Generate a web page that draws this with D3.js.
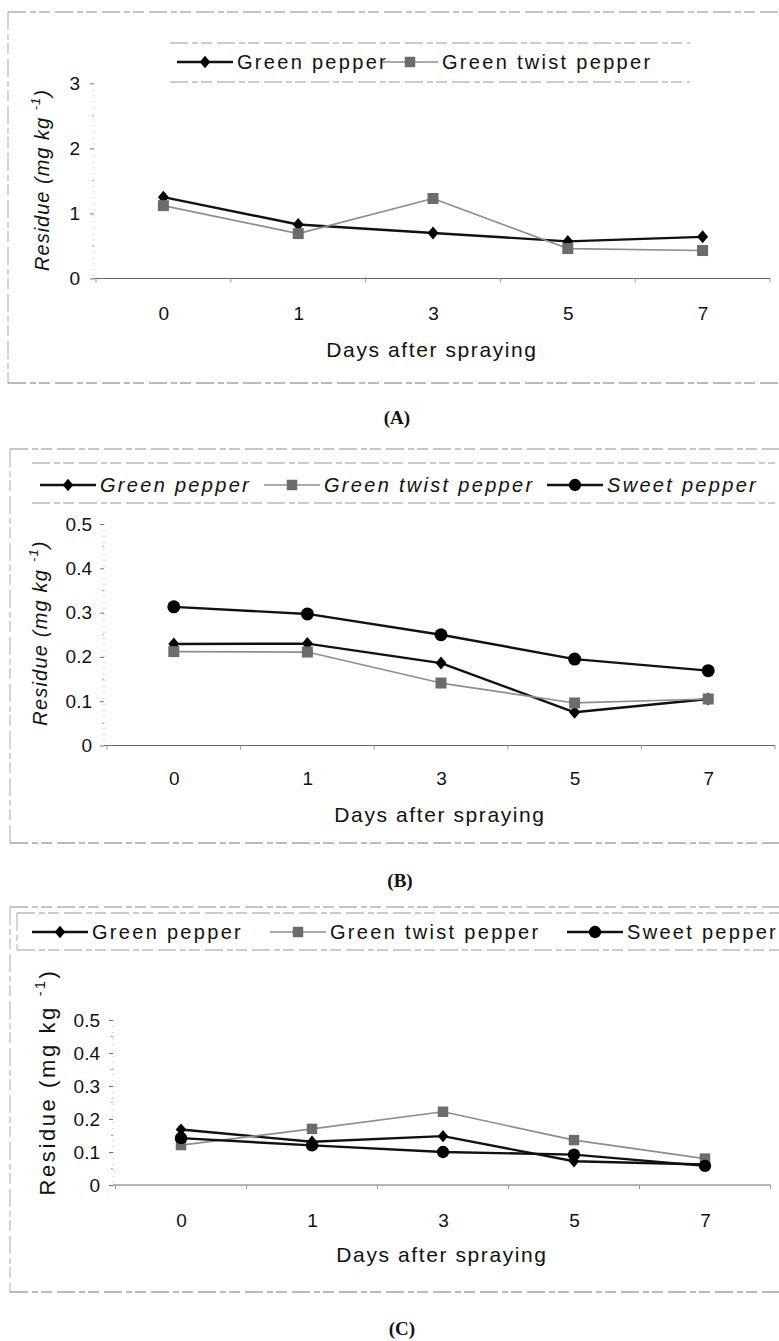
<!DOCTYPE html>
<html>
<head>
<meta charset="utf-8">
<script src="https://cdnjs.cloudflare.com/ajax/libs/d3/7.8.5/d3.min.js"></script>
<style>
  html, body { margin: 0; padding: 0; background: #fff; }
  svg { display: block; }
  text { font-family: "Liberation Sans", Arial, sans-serif; fill: #111; }
</style>
</head>
<body>
<svg id="chart" width="779" height="1341"></svg>
<script>
const days = ['0', '1', '3', '5', '7'];

// panel (A)
const aGreenPepper = [1.25, 0.83, 0.70, 0.57, 0.64];
const aTwistPepper = [1.12, 0.69, 1.23, 0.46, 0.43];
const aTicks = [0, 1, 2, 3];

// panel (B)
const bGreenPepper = [0.229, 0.230, 0.186, 0.075, 0.105];
const bTwistPepper = [0.212, 0.211, 0.141, 0.096, 0.105];
const bSweetPepper = [0.313, 0.297, 0.250, 0.195, 0.169];
const bTicks = [0, 0.1, 0.2, 0.3, 0.4, 0.5];

// panel (C)
const cGreenPepper = [0.168, 0.131, 0.148, 0.072, 0.062];
const cTwistPepper = [0.121, 0.170, 0.222, 0.136, 0.080];
const cSweetPepper = [0.142, 0.120, 0.100, 0.092, 0.058];
const cTicks = [0, 0.1, 0.2, 0.3, 0.4, 0.5];

const styles = {
  'Green pepper': { stroke: '#111', width: 2.4, marker: 'diamond', fill: '#000' },
  'Green twist pepper': { stroke: '#8e8e8e', width: 1.7, marker: 'square', fill: '#6c6c6c' },
  'Sweet pepper': { stroke: '#111', width: 2.4, marker: 'circle', fill: '#000' }
};

const svg = d3.select('#chart');

function marker(sel, type, k) {
  k = k || 1;
  if (type === 'diamond') {
    sel.append('path').attr('d', `M0,${-6.5 * k}L${5.5 * k},0L0,${6.5 * k}L${-5.5 * k},0Z`);
  } else if (type === 'square') {
    sel.append('rect').attr('x', -5.5 * k).attr('y', -5.5 * k)
      .attr('width', 11 * k).attr('height', 11 * k);
  } else {
    sel.append('circle').attr('r', 6.5 * k);
  }
}

function dashLine(g, x1, y1, x2, y2, color) {
  g.append('line')
    .attr('x1', x1).attr('y1', y1).attr('x2', x2).attr('y2', y2)
    .attr('stroke', color || '#8a8a8a')
    .attr('stroke-width', 1)
    .attr('stroke-dasharray', '18,4,6,3,11,5');
}

function drawPanel(cfg) {
  const g = svg.append('g');

  // outer frame (only top, left, bottom are inside the picture)
  dashLine(g, cfg.frame.x, cfg.frame.top, 779, cfg.frame.top);
  dashLine(g, cfg.frame.x, cfg.frame.top, cfg.frame.x, cfg.frame.bottom, '#aaa');
  dashLine(g, cfg.frame.x, cfg.frame.bottom, 779, cfg.frame.bottom, '#777');

  // legend box
  const lg = cfg.legend;
  dashLine(g, lg.x0, lg.top, lg.x1, lg.top, '#999');
  dashLine(g, lg.x0, lg.bottom, lg.x1, lg.bottom, '#999');
  if (lg.sides) {
    dashLine(g, lg.x0, lg.top, lg.x0, lg.bottom, '#aaa');
    dashLine(g, lg.x1, lg.top, lg.x1, lg.bottom, '#aaa');
  }
  lg.items.forEach(it => {
    const st = styles[it.name];
    const item = g.append('g');
    item.append('line')
      .attr('x1', it.lineX0).attr('x2', it.lineX0 + 56)
      .attr('y1', lg.cy).attr('y2', lg.cy)
      .attr('stroke', st.stroke).attr('stroke-width', st.width);
    item.append('g')
      .attr('transform', `translate(${it.lineX0 + 28},${lg.cy})`)
      .attr('fill', st.fill)
      .call(marker, st.marker, 0.95);
    item.append('text')
      .attr('x', it.lineX0 + 60).attr('y', lg.cy + 7)
      .attr('font-size', 20)
      .attr('letter-spacing', '2.3px')
      .attr('font-style', lg.italic ? 'italic' : 'normal')
      .text(it.name);
  });

  const x = d3.scalePoint().domain(days).range(cfg.xRange).padding(0.5);
  const y = d3.scaleLinear().domain([0, d3.max(cfg.ticks)]).range(cfg.yRange);
  const zeroY = y(0);

  // y axis: faint dotted spine, ticks and labels
  g.append('line')
    .attr('x1', cfg.axisX).attr('x2', cfg.axisX)
    .attr('y1', y(d3.max(cfg.ticks))).attr('y2', zeroY)
    .attr('stroke', '#bbb').attr('stroke-dasharray', '1,5');

  const minor = d3.range(0, cfg.ticks.length - 1).map(i => (cfg.ticks[i] + cfg.ticks[i + 1]) / 2);
  g.selectAll('.minor').data(minor).enter().append('line')
    .attr('x1', cfg.axisX - 2).attr('x2', cfg.axisX)
    .attr('y1', d => y(d)).attr('y2', d => y(d))
    .attr('stroke', '#aaa');

  g.append('g')
    .attr('transform', `translate(${cfg.axisX},0)`)
    .call(d3.axisLeft(y).tickValues(cfg.ticks).tickSize(4).tickPadding(cfg.tickPad).tickFormat(cfg.fmt))
    .call(s => s.select('.domain').remove())
    .call(s => s.selectAll('line').attr('stroke', '#777'))
    .call(s => s.selectAll('text')
      .attr('font-size', 19)
      .attr('font-family', '"Liberation Sans", Arial, sans-serif')
      .attr('fill', '#111'));

  // zero line
  g.append('line')
    .attr('x1', cfg.axisX).attr('x2', cfg.xRange[1])
    .attr('y1', zeroY).attr('y2', zeroY)
    .attr('stroke', '#6a6a6a').attr('stroke-width', 1.1);

  // small category ticks under the zero line
  const step = x.step();
  const bounds = days.map(d => x(d) - step / 2).concat([x(days[days.length - 1]) + step / 2]);
  g.selectAll('.xtick').data(bounds).enter().append('line')
    .attr('x1', d => d).attr('x2', d => d)
    .attr('y1', zeroY).attr('y2', zeroY + 4)
    .attr('stroke', '#999');

  g.append('g')
    .attr('transform', `translate(0,${zeroY})`)
    .call(d3.axisBottom(x).tickSize(0).tickPadding(cfg.xPad))
    .call(s => s.select('.domain').remove())
    .call(s => s.selectAll('text')
      .attr('font-size', 19)
      .attr('font-family', '"Liberation Sans", Arial, sans-serif')
      .attr('fill', '#111'));

  // axis titles
  g.append('text')
    .attr('x', cfg.xTitle[0]).attr('y', cfg.xTitle[1])
    .attr('text-anchor', 'middle')
    .attr('font-size', 21)
    .attr('letter-spacing', '1.6px')
    .text('Days after spraying');

  const yt = g.append('text')
    .attr('transform', `translate(${cfg.yTitle[0]},${cfg.yTitle[1]}) rotate(-90)`)
    .attr('text-anchor', 'middle')
    .attr('dy', '0.35em')
    .attr('font-size', cfg.yTitleSize)
    .attr('letter-spacing', cfg.yTitleSpacing + 'px')
    .attr('font-style', cfg.yItalic ? 'italic' : 'normal');
  yt.append('tspan').text('Residue (mg kg ');
  yt.append('tspan').attr('font-size', cfg.yTitleSize * 0.65).attr('dy', '-0.7em').text('-1');
  yt.append('tspan').attr('dy', '0.45em').text(')');

  // series
  const line = d3.line().x((d, i) => x(days[i])).y(d => y(d));
  cfg.series.forEach(s => {
    const st = styles[s.name];
    g.append('path')
      .datum(s.values)
      .attr('fill', 'none')
      .attr('stroke', st.stroke)
      .attr('stroke-width', st.width)
      .attr('stroke-linejoin', 'round')
      .attr('d', line);
  });
  cfg.series.forEach(s => {
    const st = styles[s.name];
    g.selectAll(null).data(s.values).enter().append('g')
      .attr('transform', (d, i) => `translate(${x(days[i])},${y(d)})`)
      .attr('fill', st.fill)
      .each(function () { marker(d3.select(this), st.marker, cfg.markerScale); });
  });

  // panel label
  g.append('text')
    .attr('x', cfg.label[0]).attr('y', cfg.label[1])
    .attr('text-anchor', 'middle')
    .attr('font-weight', 'bold')
    .attr('font-size', 19)
    .attr('style', 'font-family: "Liberation Serif", "Times New Roman", serif')
    .text(cfg.labelText);
}

const fmtDec = d => (d === 0 ? '0' : d3.format('.1f')(d));

drawPanel({
  frame: { x: 8, top: 12, bottom: 383 },
  legend: {
    x0: 170, x1: 690, top: 43, bottom: 82, cy: 62, sides: false, italic: false,
    items: [
      { name: 'Green pepper', lineX0: 177 },
      { name: 'Green twist pepper', lineX0: 382 }
    ]
  },
  xRange: [96, 770],
  yRange: [278.5, 83.3],
  ticks: aTicks,
  fmt: d3.format('d'),
  axisX: 94,
  tickPad: 10,
  xPad: 28,
  xTitle: [432, 357],
  yTitle: [42, 180],
  yTitleSize: 20,
  yTitleSpacing: 1,
  yItalic: true,
  markerScale: 1,
  series: [
    { name: 'Green pepper', values: aGreenPepper },
    { name: 'Green twist pepper', values: aTwistPepper }
  ],
  label: [397, 424],
  labelText: '(A)'
});

drawPanel({
  frame: { x: 10, top: 449, bottom: 843 },
  legend: {
    x0: 32, x1: 775, top: 463, bottom: 503, cy: 485, sides: false, italic: true,
    items: [
      { name: 'Green pepper', lineX0: 40 },
      { name: 'Green twist pepper', lineX0: 264 },
      { name: 'Sweet pepper', lineX0: 547 }
    ]
  },
  xRange: [107, 775],
  yRange: [745.5, 524],
  ticks: bTicks,
  fmt: fmtDec,
  axisX: 104,
  tickPad: 8,
  xPad: 26,
  xTitle: [440, 822],
  yTitle: [40, 633],
  yTitleSize: 20,
  yTitleSpacing: 1.2,
  yItalic: true,
  markerScale: 1,
  series: [
    { name: 'Green pepper', values: bGreenPepper },
    { name: 'Green twist pepper', values: bTwistPepper },
    { name: 'Sweet pepper', values: bSweetPepper }
  ],
  label: [400, 887],
  labelText: '(B)'
});

drawPanel({
  frame: { x: 10, top: 907, bottom: 1292 },
  legend: {
    x0: 17, x1: 790, top: 913, bottom: 950, cy: 932, sides: true, italic: false,
    items: [
      { name: 'Green pepper', lineX0: 32 },
      { name: 'Green twist pepper', lineX0: 270 },
      { name: 'Sweet pepper', lineX0: 567 }
    ]
  },
  xRange: [115.5, 770.5],
  yRange: [1185, 1020],
  ticks: cTicks,
  fmt: fmtDec,
  axisX: 113,
  tickPad: 9,
  xPad: 28.5,
  xTitle: [442, 1262],
  yTitle: [47, 1082],
  yTitleSize: 22,
  yTitleSpacing: 2.6,
  yItalic: false,
  markerScale: 0.95,
  series: [
    { name: 'Green pepper', values: cGreenPepper },
    { name: 'Green twist pepper', values: cTwistPepper },
    { name: 'Sweet pepper', values: cSweetPepper }
  ],
  label: [402, 1335],
  labelText: '(C)'
});
</script>
</body>
</html>
